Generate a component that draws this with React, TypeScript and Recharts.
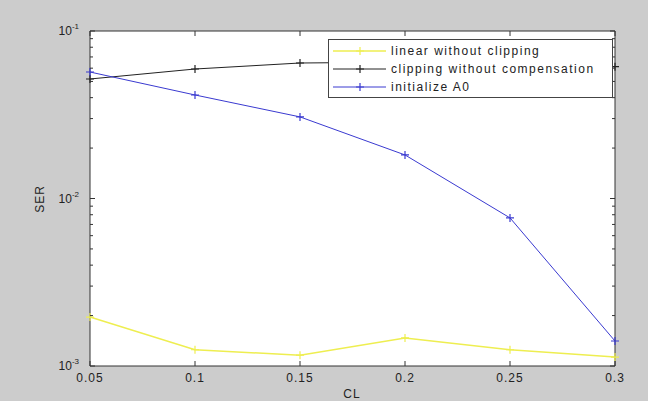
import { LineChart, Line, XAxis, YAxis, Legend, CartesianGrid } from 'recharts';

// CL values on the x axis
const CL = [0.05, 0.1, 0.15, 0.2, 0.25, 0.3];

// SER per series
const linearNoClip = [0.00196, 0.00125, 0.00116, 0.00147, 0.00125, 0.00113];
const clipNoComp = [0.0517, 0.0593, 0.0644, 0.0652, 0.064, 0.0612];
const initA0 = [0.0569, 0.0415, 0.0307, 0.0182, 0.00766, 0.00141];

const X_TICKS = [0.05, 0.1, 0.15, 0.2, 0.25, 0.3];
const Y_MAJOR = [0.001, 0.01, 0.1];
const Y_TICKS = [
  0.001, 0.002, 0.003, 0.004, 0.005, 0.006, 0.007, 0.008, 0.009,
  0.01, 0.02, 0.03, 0.04, 0.05, 0.06, 0.07, 0.08, 0.09, 0.1,
];
const X_LABELS = ['0.05', '0.1', '0.15', '0.2', '0.25', '0.3'];

const SERIES = [
  { key: 'linear', name: 'linear without clipping', color: '#eeee50', data: linearNoClip },
  { key: 'clip', name: 'clipping without compensation', color: '#222222', data: clipNoComp },
  { key: 'init', name: 'initialize A0', color: '#3a3ad0', data: initA0 },
];

const data = CL.map((cl, i) => ({
  cl,
  linear: linearNoClip[i],
  clip: clipNoComp[i],
  init: initA0[i],
}));

const FONT = '"Liberation Sans", Arial, sans-serif';
const AXIS = '#333333';

const isMajor = (v: number) => Y_MAJOR.some((m) => Math.abs(m - v) < 1e-9);

const LeftTick = (props: any) => {
  const { x, y, payload } = props;
  const major = isMajor(payload.value);
  const exp = Math.round(Math.log10(payload.value));
  return (
    <g>
      <line x1={x} y1={y} x2={x + (major ? 5 : 3)} y2={y} stroke={AXIS} />
      {major && (
        <text x={x - 11} y={y + 4} textAnchor="end" fontSize={12} fontFamily={FONT} fill="#222">
          10
          <tspan dy={-6} fontSize={8}>{exp}</tspan>
        </text>
      )}
    </g>
  );
};

const RightTick = (props: any) => {
  const { x, y, payload } = props;
  const major = isMajor(payload.value);
  return <line x1={x} y1={y} x2={x - (major ? 5 : 3)} y2={y} stroke={AXIS} />;
};

const BottomTick = (props: any) => {
  const { x, y, index } = props;
  return (
    <g>
      <line x1={x} y1={y} x2={x} y2={y - 5} stroke={AXIS} />
      <text x={x} y={y + 16} textAnchor="middle" fontSize={12} letterSpacing={1} fontFamily={FONT} fill="#222">
        {X_LABELS[index]}
      </text>
    </g>
  );
};

const TopTick = (props: any) => {
  const { x, y } = props;
  return <line x1={x} y1={y} x2={x} y2={y + 5} stroke={AXIS} />;
};

const Plus = (props: any) => {
  const { cx, cy, stroke } = props;
  if (cx == null || cy == null) return <g />;
  return (
    <path
      d={`M${cx - 4},${cy}H${cx + 4}M${cx},${cy - 4}V${cy + 4}`}
      stroke={stroke}
      strokeWidth={1.2}
      fill="none"
    />
  );
};

const LegendBox = () => (
  <div
    style={{
      width: 285,
      height: 59,
      boxSizing: 'border-box',
      background: '#fff',
      border: '1px solid #444',
      padding: '2px 0 0 0',
      fontFamily: FONT,
      fontSize: 12,
      letterSpacing: 1.5,
      color: '#222',
    }}
  >
    {SERIES.map((s) => (
      <div key={s.key} style={{ display: 'flex', alignItems: 'center', height: 18 }}>
        <svg width={62} height={18} style={{ flex: 'none' }}>
          <line x1={4} y1={9} x2={57} y2={9} stroke={s.color} strokeWidth={s.key === 'linear' ? 1.5 : 1} />
          <path d="M31,5V13M27,9H35" stroke={s.color} strokeWidth={1.2} />
        </svg>
        <span style={{ lineHeight: '18px', whiteSpace: 'nowrap' }}>{s.name}</span>
      </div>
    ))}
  </div>
);

export default function App() {
  return (
    <div style={{ position: 'fixed', left: 0, top: 0, width: 648, height: 401, background: '#cccccc' }}>
      <LineChart
        width={648}
        height={401}
        data={data}
        margin={{ top: 0, right: 0, bottom: 0, left: 0 }}
      >
        <CartesianGrid horizontal={false} vertical={false} fill="#ffffff" />
        <XAxis
          dataKey="cl"
          type="number"
          domain={[0.05, 0.3]}
          ticks={X_TICKS}
          height={35}
          tickSize={0}
          tickMargin={0}
          tickLine={false}
          axisLine={{ stroke: AXIS }}
          tick={<BottomTick />}
          interval={0}
          label={{
            content: () => (
              <text x={352} y={398} textAnchor="middle" fontSize={12} fontFamily={FONT} fill="#222" letterSpacing={1}>
                CL
              </text>
            ),
          }}
        />
        <XAxis
          xAxisId="top"
          orientation="top"
          dataKey="cl"
          type="number"
          domain={[0.05, 0.3]}
          ticks={X_TICKS}
          height={31}
          tickSize={0}
          tickMargin={0}
          tickLine={false}
          axisLine={{ stroke: AXIS }}
          tick={<TopTick />}
          interval={0}
        />
        <YAxis
          type="number"
          scale="log"
          domain={[0.001, 0.1]}
          allowDataOverflow
          ticks={Y_TICKS}
          width={90}
          tickSize={0}
          tickMargin={0}
          tickLine={false}
          axisLine={{ stroke: AXIS }}
          tick={<LeftTick />}
          interval={0}
          label={{
            content: () => (
              <text
                x={40}
                y={199}
                transform="rotate(-90, 40, 199)"
                textAnchor="middle"
                dominantBaseline="central"
                fontSize={12}
                fontFamily={FONT}
                fill="#222"
                letterSpacing={1}
              >
                SER
              </text>
            ),
          }}
        />
        <YAxis
          yAxisId="right"
          orientation="right"
          type="number"
          scale="log"
          domain={[0.001, 0.1]}
          allowDataOverflow
          ticks={Y_TICKS}
          width={33}
          tickSize={0}
          tickMargin={0}
          tickLine={false}
          axisLine={{ stroke: AXIS }}
          tick={<RightTick />}
          interval={0}
        />
        {SERIES.map((s) => (
          <Line
            key={s.key}
            dataKey={s.key}
            name={s.name}
            stroke={s.color}
            strokeWidth={s.key === 'linear' ? 1.5 : 1}
            dot={<Plus />}
            activeDot={false}
            isAnimationActive={false}
          />
        ))}
        <Legend
          layout="horizontal"
          verticalAlign="middle"
          align="center"
          content={<LegendBox />}
          wrapperStyle={{ position: 'absolute', left: 328, top: 39, width: 285, height: 59 }}
        />
      </LineChart>
    </div>
  );
}
